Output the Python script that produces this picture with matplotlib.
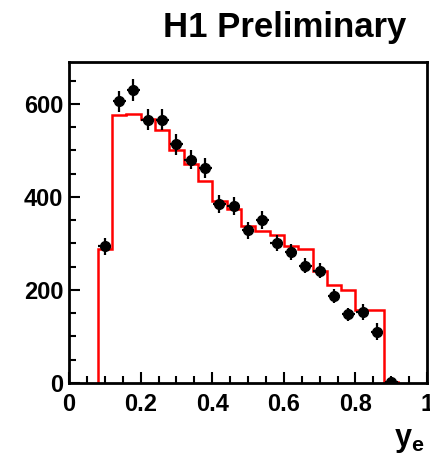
import numpy as np
import matplotlib.pyplot as plt
from matplotlib.ticker import MultipleLocator

plt.rcParams['font.family'] = ['Liberation Sans', 'DejaVu Sans']
plt.rcParams['font.weight'] = 'bold'
plt.rcParams['mathtext.fontset'] = 'custom'
plt.rcParams['mathtext.bf'] = 'Liberation Sans:bold'
plt.rcParams['mathtext.rm'] = 'Liberation Sans:bold'

# bin edges of the y_e histogram
bin_edges = [0.08, 0.12, 0.16, 0.20, 0.24, 0.28, 0.32, 0.36, 0.40, 0.44, 0.48,
             0.52, 0.56, 0.60, 0.64, 0.68, 0.72, 0.76, 0.80, 0.84, 0.88, 0.92]

# Monte Carlo prediction (red histogram)
mc_counts = [288, 576, 579, 567, 544, 500, 470, 434, 391, 374, 338,
             326, 319, 295, 287, 241, 210, 200, 157, 157, 3]

# data points (bin centres, counts, errors)
data_x = [0.10, 0.14, 0.18, 0.22, 0.26, 0.30, 0.34, 0.38, 0.42, 0.46, 0.50,
          0.54, 0.58, 0.62, 0.66, 0.70, 0.74, 0.78, 0.82, 0.86, 0.90]
data_y = [294, 605, 630, 566, 566, 513, 480, 462, 385, 380, 328,
          350, 301, 282, 252, 241, 186, 148, 153, 110, 2]
data_err = [18, 23, 24, 23, 23, 22, 21, 21, 20, 19, 18,
            19, 17, 17, 16, 16, 15, 14, 17, 18, 2]

fig = plt.figure(figsize=(4.31, 4.62), dpi=100)
ax = fig.add_axes([0.160, 0.171, 0.831, 0.695])

ax.stairs(mc_counts, bin_edges, color='red', lw=1.8, baseline=0)
ax.errorbar(data_x, data_y, yerr=data_err, xerr=0.018, fmt='o', color='black',
            ms=7, elinewidth=1.6, capsize=0, zorder=3)

ax.set_xlim(0, 1)
ax.set_ylim(0, 690)
ax.xaxis.set_major_locator(MultipleLocator(0.2))
ax.xaxis.set_minor_locator(MultipleLocator(0.05))
ax.yaxis.set_major_locator(MultipleLocator(200))
ax.yaxis.set_minor_locator(MultipleLocator(50))
ax.xaxis.set_major_formatter(plt.FuncFormatter(lambda v, p: '%g' % v))

ax.tick_params(which='both', direction='in', top=False, right=False,
               labelsize=17, width=1.5)
ax.tick_params(axis='x', which='major', length=8, pad=7)
ax.tick_params(axis='y', which='major', length=8, pad=4)
ax.tick_params(which='minor', length=5)
for s in ax.spines.values():
    s.set_linewidth(2)

fig.text(0.985, 0.035, r'$\mathbf{y_e}$', fontsize=22, ha='right', va='baseline')
fig.text(0.944, 0.920, 'H1 Preliminary', fontsize=25, ha='right', va='baseline',
         fontweight='bold')

fig.savefig('out.png', dpi=100)
